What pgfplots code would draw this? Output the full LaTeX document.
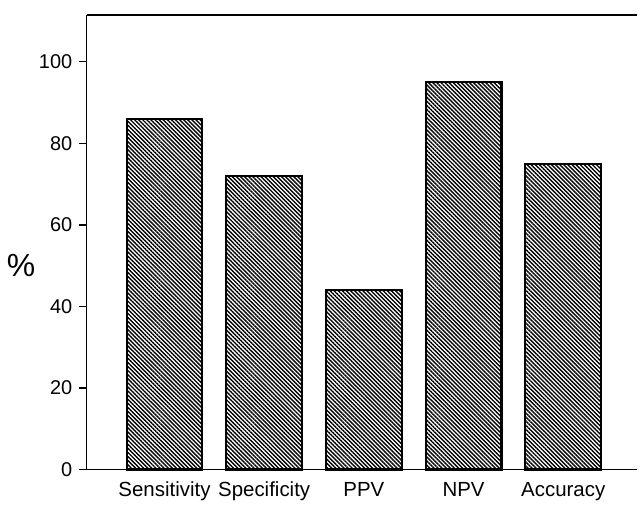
\documentclass[border=0pt]{standalone}
\usepackage{pgfplots}
\pgfplotsset{compat=1.18}
\usetikzlibrary{patterns.meta}
\usepackage{fontspec}
\setmainfont{Liberation Sans}

\begin{document}
\begin{tikzpicture}
\begin{axis}[
    scale only axis,
    width=552pt,
    height=456pt,
    ybar,
    bar width=0.76,
    xmin=-0.78, xmax=4.74,
    ymin=0, ymax=111.5,
    axis x line=bottom,
    axis y line=left,
    axis line style={-, line width=1.5pt},
    xtick=data,
    xticklabels={Sensitivity,Specificity,PPV,NPV,Accuracy},
    x tick style={draw=none},
    xticklabel style={font=\fontsize{20.5}{20.5}\selectfont, yshift=-1pt},
    ytick={0,20,40,60,80,100},
    y tick style={line width=1.3pt, black},
    tick align=outside,
    major tick length=8pt,
    yticklabel style={font=\fontsize{20}{20}\selectfont, xshift=-3pt},
    /pgf/number format/assume math mode=true,
    ylabel={\%},
    ylabel style={rotate=-90, font=\fontsize{32}{32}\selectfont,
        at={(axis description cs:0,0.448)}, anchor=center, xshift=-66pt},
    clip=false,
]
\addplot[draw=black, line width=2.2pt,
    pattern={Lines[angle=-45, distance=2.9pt, line width=1.4pt]}]
    coordinates {(0,86) (1,72) (2,44) (3,95) (4,75)};
\draw[line width=1.5pt] (rel axis cs:0,1) -- (rel axis cs:1,1);
\path (rel axis cs:0,1) ++(-87pt,15pt);
\path (rel axis cs:1,0) ++(2pt,-30pt);
\end{axis}
\end{tikzpicture}
\end{document}
